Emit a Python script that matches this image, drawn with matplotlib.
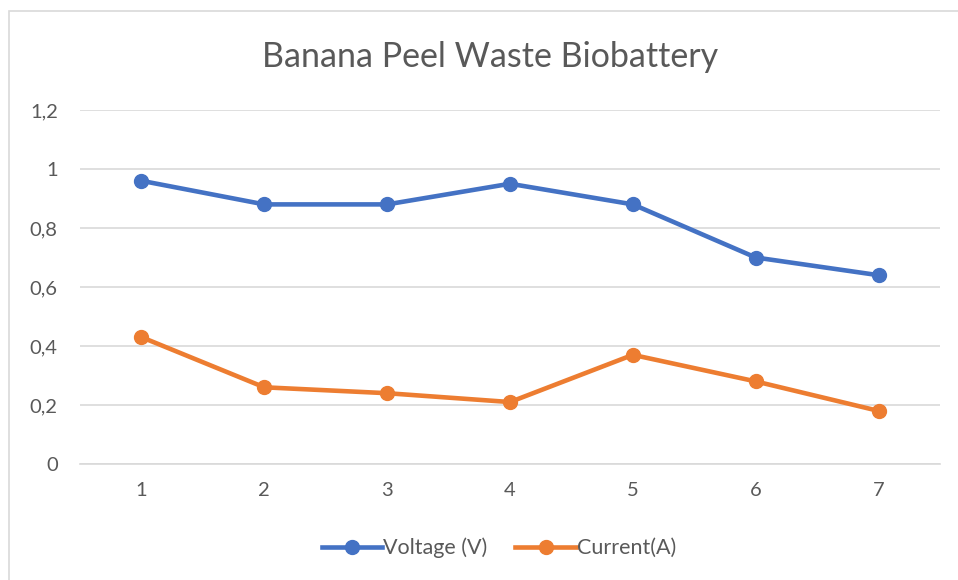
import matplotlib.pyplot as plt
from matplotlib.patches import Rectangle

# data
samples = [1, 2, 3, 4, 5, 6, 7]
voltage = [0.96, 0.88, 0.88, 0.95, 0.88, 0.70, 0.64]
current = [0.43, 0.26, 0.24, 0.21, 0.37, 0.28, 0.18]
y_ticks = [0, 0.2, 0.4, 0.6, 0.8, 1.0, 1.2]
y_labels = ['0', '0,2', '0,4', '0,6', '0,8', '1', '1,2']

plt.rcParams['font.family'] = ['Lato', 'DejaVu Sans']
text_col = '#595959'

fig = plt.figure(figsize=(9.58, 5.8), dpi=100)
W, H = 958, 580
ax = fig.add_axes([80 / W, 1 - 464 / H, 860 / W, 354 / H])

# chart border (runs off right and bottom edges)
fig.patches.append(Rectangle((9 / W, -0.05), 1.1, 1 - 11 / H + 0.05,
                             transform=fig.transFigure, fill=False,
                             ec='#d9d9d9', lw=1.2))

ax.plot(samples, voltage, color='#4472C4', lw=3.3, marker='o', ms=10,
        label='Voltage (V)', zorder=3)
ax.plot(samples, current, color='#ED7D31', lw=3.3, marker='o', ms=10,
        label='Current(A)', zorder=3)

ax.set_xlim(0.5, 7.5)
ax.set_ylim(0, 1.2)
ax.set_yticks(y_ticks)
ax.set_yticklabels(y_labels)
ax.set_xticks(samples)
ax.grid(axis='y', color='#d9d9d9', lw=1.2)
ax.set_axisbelow(True)
for s in ['top', 'right', 'left']:
    ax.spines[s].set_visible(False)
ax.spines['bottom'].set_color('#d9d9d9')
ax.spines['bottom'].set_linewidth(1.2)
ax.tick_params(length=0, labelsize=14.5, colors=text_col)
ax.tick_params(axis='y', pad=16)
ax.tick_params(axis='x', pad=13)

fig.text(490 / W, 1 - 57 / H, 'Banana Peel Waste Biobattery', ha='center',
         va='center', fontsize=24.5, color=text_col)

leg = fig.legend(loc='center', bbox_to_anchor=(499 / W, 1 - 548 / H), ncol=2,
                 frameon=False, fontsize=15.5, handlelength=2.8,
                 columnspacing=1.3, handletextpad=0.05)
for t in leg.get_texts():
    t.set_color(text_col)

fig.savefig('out.png', dpi=100)
